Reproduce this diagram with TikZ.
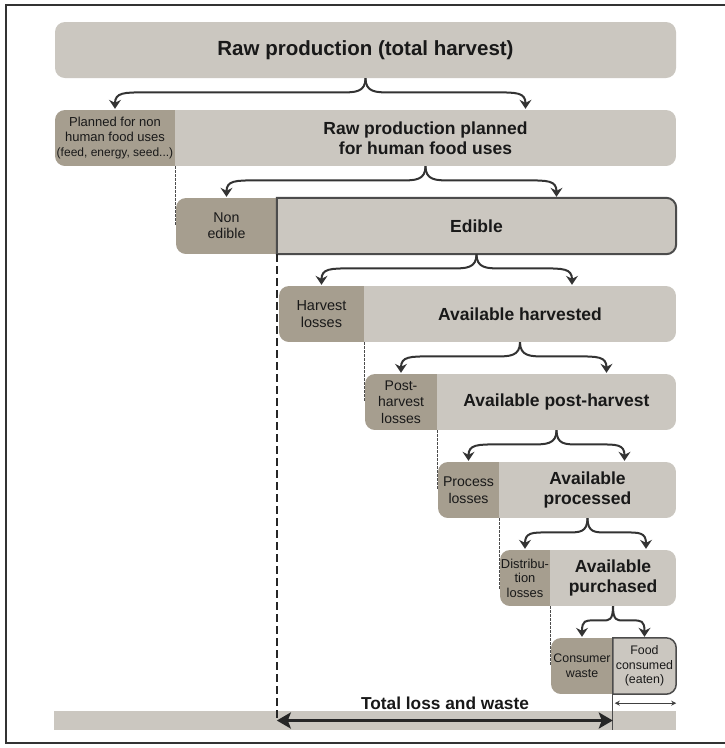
\documentclass[tikz,border=0pt]{standalone}
\usepackage{fontspec}
\setmainfont{Liberation Sans}
\usetikzlibrary{arrows.meta,calc}
\definecolor{boxlight}{HTML}{CBC7C0}
\definecolor{boxdark}{HTML}{A69E8F}
\definecolor{inkgrey}{HTML}{333333}
\tikzset{
  lightpart/.style={fill=boxlight, text=black!90, inner sep=0pt, minimum height=56pt, align=center, font=\bfseries\fontsize{17.5}{20}\selectfont},
  darkpart/.style={fill=boxdark, text=black!90, inner sep=0pt, minimum height=56pt, align=center},
  branch/.style={draw=inkgrey, line width=2pt, -{Stealth[length=9pt,width=12pt,inset=3pt]}, shorten >=1pt},
  lossline/.style={draw=black!70, line width=1pt, dash pattern=on 2.5pt off 1.5pt},
  edibleline/.style={draw=black!85, line width=2.2pt, dash pattern=on 8pt off 4pt},
  rimline/.style={draw=black!70, line width=2pt},
  bigarrow/.style={draw=black!85, line width=3pt, {Stealth[length=14pt,width=16pt,inset=3pt]}-{Stealth[length=14pt,width=16pt,inset=3pt]}},
  smallarrow/.style={draw=black!75, line width=0.9pt, {Stealth[length=5pt,width=5pt]}-{Stealth[length=5pt,width=5pt]}},
}
% brace-shaped split from the middle of a box to one of the two parts below
\newcommand{\branch}[2]{%
  \draw[branch] let \p1=(#1), \p2=(#2),
    \n1={sign(\x2-\x1)}, \n2={min(24,0.3*abs(\x2-\x1))},
    \n3={\y1+0.45*(\y2-\y1)},
    \n4={\x1+(\n1)*\n2}, \n5={\x2-(\n1)*\n2*1.2},
    \n6={\x1+(\n1)*\n2*0.45}, \n7={\x2-(\n1)*\n2*0.4} in
    (\p1) .. controls (\x1,\n3) and (\n6,\n3) .. (\n4,\n3) -- (\n5,\n3)
    .. controls (\n7,\n3) and (\x2,\n3) .. (\p2);}

\begin{document}
\begin{tikzpicture}[x=1pt,y=1pt]
\useasboundingbox (0,0) rectangle (725,-748);
\fill[color=white] (0,0) rectangle (725,-748);
% Frame
\draw[color=inkgrey, line width=1.4pt] (725,-5) -- (6,-5) -- (6,-743) -- (725,-743);
% Drawing boxes
% Row 1: raw production
\node[lightpart, minimum width=621pt, rounded corners=10pt, font=\bfseries\fontsize{20.5}{24}\selectfont] (rawprod) at (365.5,-50) {Raw production (total harvest)};
% Row 2: non food uses / planned for food
\begin{scope}
\clip[rounded corners=10pt] (55,-110) rectangle (676,-166);
\node[darkpart, minimum width=120pt, font=\fontsize{13}{15}\selectfont] (plan) at (115,-138) {Planned for non\\human food uses\\{\fontsize{12}{15}\selectfont(feed, energy, seed...)}};
\node[lightpart, minimum width=501pt] (rawfood) at (425.5,-138) {Raw production planned\\for human food uses};
\end{scope}
% Row 3: non edible / edible
\begin{scope}
\clip[rounded corners=10pt] (176,-198) rectangle (676,-254);
\node[darkpart, minimum width=101pt, font=\fontsize{14.2}{16}\selectfont] (nonedible) at (226.5,-226) {Non\\edible};
\node[lightpart, minimum width=399pt] (edible) at (476.5,-226) {Edible};
\end{scope}
\draw[rimline] (edible.north west) -- ([xshift=-10pt]edible.north east) arc[start angle=90,end angle=0,radius=10pt] -- ([yshift=10pt]edible.south east) arc[start angle=0,end angle=-90,radius=10pt] -- (edible.south west) -- cycle;
% Row 4: harvest
\begin{scope}
\clip[rounded corners=10pt] (279,-286) rectangle (676,-342);
\node[darkpart, minimum width=85pt, font=\fontsize{14.5}{17}\selectfont] (harvloss) at (321.5,-314) {Harvest\\losses};
\node[lightpart, minimum width=312pt] (harvested) at (520,-314) {Available harvested};
\end{scope}
% Row 5: post-harvest
\begin{scope}
\clip[rounded corners=10pt] (365,-374) rectangle (676,-430);
\node[darkpart, minimum width=72pt, font=\fontsize{14}{16.5}\selectfont] (postloss) at (401,-402) {Post-\\harvest\\losses};
\node[lightpart, minimum width=239pt] (postharv) at (556.5,-402) {Available post-harvest};
\end{scope}
% Row 6: processing
\begin{scope}
\clip[rounded corners=10pt] (438,-462) rectangle (676,-518);
\node[darkpart, minimum width=61pt, font=\fontsize{14.1}{17}\selectfont] (procloss) at (468.5,-490) {Process\\losses};
\node[lightpart, minimum width=177pt] (processed) at (587.5,-490) {Available\\processed};
\end{scope}
% Row 7: distribution
\begin{scope}
\clip[rounded corners=10pt] (500,-550) rectangle (676,-606);
\node[darkpart, minimum width=50pt, font=\fontsize{12.9}{14.5}\selectfont] (distloss) at (525,-578) {Distribu-\\tion\\losses};
\node[lightpart, minimum width=126pt] (purchased) at (613,-578) {Available\\purchased};
\end{scope}
% Row 8: consumption
\begin{scope}
\clip[rounded corners=10pt] (551,-638) rectangle (676,-694);
\node[darkpart, minimum width=62pt, font=\fontsize{12.4}{15}\selectfont] (waste) at (582,-666) {Consumer\\waste};
\node[lightpart, minimum width=63pt, font=\fontsize{12.4}{14.5}\selectfont] (eaten) at (644.5,-666) {Food\\consumed\\(eaten)};
\end{scope}
\draw[rimline, line width=1.5pt] (eaten.north west) -- ([xshift=-10pt]eaten.north east) arc[start angle=90,end angle=0,radius=10pt] -- ([yshift=10pt]eaten.south east) arc[start angle=0,end angle=-90,radius=10pt] -- (eaten.south west) -- cycle;
% Bottom bar
\node[fill=boxlight, inner sep=0pt, minimum width=622pt, minimum height=19pt] (floor) at (365,-720.5) {};
% Done with boxes; drawing loss lines
\draw[lossline] (plan.south east) -- (plan.south east |- nonedible.center);
\draw[lossline] (harvloss.south east) -- (harvloss.south east |- postloss.center);
\draw[lossline] (postloss.south east) -- (postloss.south east |- procloss.center);
\draw[lossline] (procloss.south east) -- ($(procloss.south east |- distloss.center)+(0,-12)$);
\draw[lossline] (distloss.south east) -- (distloss.south east |- waste.center);
\draw[edibleline] (edible.south west) -- (edible.west |- floor.center);
\draw[color=black!70, line width=1pt] (eaten.south west) -- (eaten.west |- floor.south);
% Drawing splits
\branch{rawprod.south}{plan.north}
\branch{rawprod.south}{[xshift=100pt]rawfood.north}
\branch{rawfood.south}{nonedible.north}
\branch{rawfood.south}{[xshift=80pt]edible.north}
\branch{edible.south}{harvloss.north}
\branch{edible.south}{[xshift=52pt]harvested.north}
\branch{harvested.south}{postloss.north}
\branch{harvested.south}{[xshift=50pt]postharv.north}
\branch{postharv.south}{procloss.north}
\branch{postharv.south}{[xshift=37pt]processed.north}
\branch{processed.south}{distloss.north}
\branch{processed.south}{[xshift=33pt]purchased.north}
\branch{purchased.south}{waste.north}
\branch{purchased.south}{eaten.north}
% Drawing totals
\node[font=\bfseries\fontsize{17.3}{20}\selectfont, text=black!90] (totallabel) at (445,-703) {Total loss and waste};
\draw[bigarrow] (edible.west |- floor.center) -- (eaten.west |- floor.center);
\draw[smallarrow] ([xshift=2pt,yshift=-9pt]eaten.south west) -- ([yshift=-9pt]eaten.south east);
\end{tikzpicture}
\end{document}
